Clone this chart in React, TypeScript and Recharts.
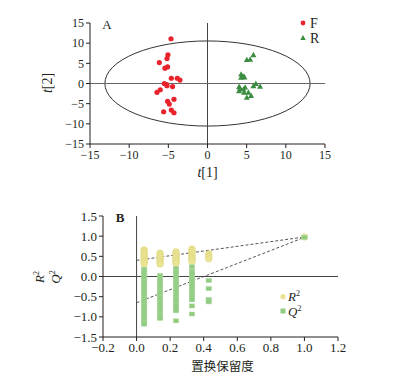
import {
  ReferenceArea,
  ReferenceLine,
  Scatter,
  ScatterChart,
  XAxis,
  YAxis,
  Customized,
} from "recharts";

// --- panel A: PCA scores ---
const fT1 = [-4.66, -5.05, -5.17, -6.15, -5.1, -5.43, -4.62, -3.86, -3.52, -5.51, -5.22, -5.17, -4.46, -6.03, -6.45, -4.28, -5.1, -4.88, -5.6, -4.62, -4.28];
const fT2 = [11.1, 7.1, 6.2, 5.2, 4.1, 3.8, 1.3, 1.3, 0.85, 0, -0.25, -0.55, -0.75, -1.55, -2.2, -3.9, -4.4, -5.1, -7.0, -6.6, -7.25];
const rT1 = [5.86, 5.44, 5.02, 4.29, 4.59, 4.29, 4.72, 6.17, 6.71, 5.86, 4.04, 4.04, 4.59, 4.67, 5.22, 5.56, 5.02, 4.16, 4.8];
const rT2 = [7.1, 6.0, 5.9, 2.3, 1.75, 1.5, 1.6, 0, -0.7, -0.6, -0.75, -1.8, -1.4, -2.2, -2.2, -3.0, -3.45, -1.2, -0.9];
const scoreTicks = [-15, -10, -5, 0, 5, 10, 15];
const ellipseT1 = 13.1;
const ellipseT2 = 10.55;

// --- panel B: permutation test ---
const permX = [0.045, 0.14, 0.235, 0.33, 0.43];
const r2Cols = [
  [0.66, 0.62, 0.58, 0.54, 0.5, 0.46, 0.42, 0.38, 0.34, 0.31],
  [0.58, 0.54, 0.5, 0.46, 0.42, 0.38, 0.34, 0.31],
  [0.61, 0.57, 0.53, 0.49, 0.45, 0.41, 0.37, 0.33],
  [0.68, 0.64, 0.6, 0.56, 0.52, 0.48, 0.44, 0.4, 0.37],
  [0.56, 0.52, 0.48, 0.44],
];
const q2Cols = [
  [0.18, 0.12, 0.06, 0.0, -0.06, -0.12, -0.18, -0.24, -0.3, -0.36, -0.42, -0.48, -0.54, -0.6, -0.66, -0.72, -0.78, -0.84, -0.9, -0.96, -1.02, -1.08, -1.14, -1.18],
  [0.02, -0.04, -0.1, -0.16, -0.22, -0.28, -0.34, -0.4, -0.46, -0.52, -0.58, -0.64, -0.7, -0.76, -0.82, -0.88, -0.94, -1.0, -1.04],
  [0.2, 0.12, 0.06, 0.0, -0.06, -0.12, -0.18, -0.24, -0.3, -0.36, -0.42, -0.48, -0.54, -0.6, -0.66, -0.72, -0.78, -0.85, -1.1],
  [0.24, 0.13, 0.07, 0.01, -0.05, -0.11, -0.17, -0.23, -0.29, -0.35, -0.41, -0.47, -0.53, -0.58, -0.73, -0.93],
  [-0.1, -0.3, -0.57, -0.63],
];
const origX = 1.0;
const origR2 = 0.98;
const origQ2 = 0.97;
const r2Line = [0.4, 0.98];
const q2Line = [-0.65, 0.97];
const permXTicks = [-0.2, 0, 0.2, 0.4, 0.6, 0.8, 1.0, 1.2];
const permYTicks = [-1.5, -1.0, -0.5, 0, 0.5, 1.0, 1.5];

const fData = fT1.map((x, i) => ({ x, y: fT2[i] }));
const rData = rT1.map((x, i) => ({ x, y: rT2[i] }));
const r2Data = [
  ...r2Cols.flatMap((col, i) => col.map((y) => ({ x: permX[i], y }))),
  { x: origX, y: origR2 },
];
const q2Data = [
  ...q2Cols.flatMap((col, i) => col.map((y) => ({ x: permX[i], y }))),
  { x: origX, y: origQ2 },
];

const SERIF = "'Liberation Serif', 'Times New Roman', serif";
const INK = "#231f20";
const RED = "#e8232b";
const GREEN = "#3b8c40";
const YELLOW = "#ebe494";
const LIGHT_GREEN = "#8fcb80";

const tick = { fill: INK, fontSize: 12, fontFamily: SERIF };
const minus = (v: number, d: number) => v.toFixed(d).replace("-", "−");

const RedDot = (p: any) => <circle cx={p.cx} cy={p.cy} r={2.6} fill={RED} />;
const GreenTri = (p: any) => (
  <polygon
    points={`${p.cx},${p.cy - 3} ${p.cx - 3},${p.cy + 2.4} ${p.cx + 3},${p.cy + 2.4}`}
    fill={GREEN}
  />
);
const R2Dot = (p: any) => (
  <circle cx={p.cx} cy={p.cy} r={3.3} fill={YELLOW} stroke="#ddd57c" strokeWidth={0.5} />
);
const Q2Sq = (p: any) => (
  <rect
    x={p.cx - 2.7}
    y={p.cy - 2}
    width={5.4}
    height={4}
    fill={LIGHT_GREEN}
    stroke="#acd9a0"
    strokeWidth={0.5}
  />
);

function PanelA() {
  return (
    <ScatterChart width={408} height={190} margin={{ top: 23, right: 83, bottom: 0, left: 0 }}>
      <XAxis
        type="number"
        dataKey="x"
        domain={[-15, 15]}
        ticks={scoreTicks}
        interval={0}
        tick={tick}
        tickFormatter={(v: number) => minus(v, 0)}
        stroke={INK}
        tickSize={4}
        tickMargin={2}
        height={46}
        label={{
          content: (props: any) => {
            const vb = props.viewBox;
            return (
              <text x={vb.x + vb.width / 2} y={vb.y + 33} textAnchor="middle" fontFamily={SERIF} fontSize={14} fill={INK}>
                <tspan fontStyle="italic">t</tspan>[1]
              </text>
            );
          },
        }}
      />
      <YAxis
        type="number"
        dataKey="y"
        domain={[-15, 15]}
        ticks={scoreTicks}
        interval={0}
        tick={tick}
        tickFormatter={(v: number) => minus(v, 0)}
        stroke={INK}
        tickSize={4}
        tickMargin={2}
        width={90}
        label={{
          content: () => (
            <text x={0} y={0} transform="translate(52,83) rotate(-90)" textAnchor="middle" fontFamily={SERIF} fontSize={14} fill={INK}>
              <tspan fontStyle="italic">t</tspan>[2]
            </text>
          ),
        }}
      />
      <ReferenceLine x={0} stroke="#444" />
      <ReferenceLine y={0} stroke="#666" />
      <ReferenceArea
        x1={-ellipseT1}
        x2={ellipseT1}
        y1={-ellipseT2}
        y2={ellipseT2}
        shape={(p: any) => (
          <ellipse
            cx={p.x + p.width / 2}
            cy={p.y + p.height / 2}
            rx={p.width / 2}
            ry={p.height / 2}
            fill="none"
            stroke="#333"
            strokeWidth={1}
          />
        )}
      />
      <Scatter name="F" data={fData} shape={RedDot} isAnimationActive={false} />
      <Scatter name="R" data={rData} shape={GreenTri} isAnimationActive={false} />
      <Customized
        component={() => (
          <g fontFamily={SERIF} fill={INK}>
            <text x={107} y={29} fontSize={13} textAnchor="middle">A</text>
            <circle cx={303} cy={23} r={2.4} fill={RED} />
            <text x={310} y={28} fontSize={14}>F</text>
            <polygon points="303,35 300.3,40 305.7,40" fill={GREEN} />
            <text x={310} y={42.5} fontSize={14}>R</text>
          </g>
        )}
      />
    </ScatterChart>
  );
}

function PanelB() {
  return (
    <ScatterChart width={408} height={196} margin={{ top: 26, right: 70, bottom: 0, left: 0 }}>
      <XAxis
        type="number"
        dataKey="x"
        domain={[-0.2, 1.2]}
        ticks={permXTicks}
        interval={0}
        tick={{ ...tick, fontSize: 13 }}
        tickFormatter={(v: number) => minus(v, 1)}
        stroke={INK}
        tickSize={4}
        tickMargin={2}
        height={49}
        label={{
          content: (props: any) => {
            const vb = props.viewBox;
            return (
              <text x={vb.x + vb.width / 2 + 2} y={vb.y + 34} textAnchor="middle" fontFamily="'Noto Sans CJK SC', sans-serif" fontSize={12.5} fill={INK}>
                置换保留度
              </text>
            );
          },
        }}
      />
      <YAxis
        type="number"
        dataKey="y"
        domain={[-1.5, 1.5]}
        ticks={permYTicks}
        interval={0}
        tick={{ ...tick, fontSize: 13 }}
        tickFormatter={(v: number) => minus(v, 1)}
        stroke={INK}
        tickSize={4}
        tickMargin={2}
        width={103}
        label={{
          content: () => (
            <g fontFamily={SERIF} fontSize={13} fill={INK}>
              <text x={0} y={0} transform="translate(44,87) rotate(-90)" textAnchor="middle">
                <tspan fontStyle="italic">R</tspan>
                <tspan fontSize={8} dy={-5}>2</tspan>
              </text>
              <text x={0} y={0} transform="translate(60,87) rotate(-90)" textAnchor="middle">
                <tspan fontStyle="italic">Q</tspan>
                <tspan fontSize={8} dy={-5}>2</tspan>
              </text>
            </g>
          ),
        }}
      />
      <ReferenceLine x={0} stroke="#444" />
      <ReferenceLine y={0} stroke="#444" />
      <ReferenceLine
        segment={[{ x: 0, y: r2Line[0] }, { x: origX, y: r2Line[1] }]}
        stroke="#555"
        strokeDasharray="3 2"
      />
      <ReferenceLine
        segment={[{ x: 0, y: q2Line[0] }, { x: origX, y: q2Line[1] }]}
        stroke="#555"
        strokeDasharray="3 2"
      />
      <Scatter name="R2" data={r2Data} shape={R2Dot} isAnimationActive={false} />
      <Scatter name="Q2" data={q2Data} shape={Q2Sq} isAnimationActive={false} />
      <Customized
        component={() => (
          <g fontFamily={SERIF} fill={INK}>
            <text x={120} y={32} fontSize={13} textAnchor="middle" fontWeight="bold">B</text>
            <circle cx={283} cy={106.7} r={2.6} fill={YELLOW} />
            <text x={288} y={111} fontSize={13}>
              <tspan fontStyle="italic">R</tspan>
              <tspan fontSize={8} dy={-5}>2</tspan>
            </text>
            <rect x={280.5} y={118.5} width={5} height={5} fill={LIGHT_GREEN} />
            <text x={288} y={125.5} fontSize={13}>
              <tspan fontStyle="italic">Q</tspan>
              <tspan fontSize={8} dy={-5}>2</tspan>
            </text>
          </g>
        )}
      />
    </ScatterChart>
  );
}

export default function App() {
  return (
    <div style={{ position: "absolute", left: 0, top: 0, width: 408, height: 386, background: "#fff" }}>
      <div style={{ position: "absolute", left: 0, top: 0 }}>
        <PanelA />
      </div>
      <div style={{ position: "absolute", left: 0, top: 190 }}>
        <PanelB />
      </div>
    </div>
  );
}
